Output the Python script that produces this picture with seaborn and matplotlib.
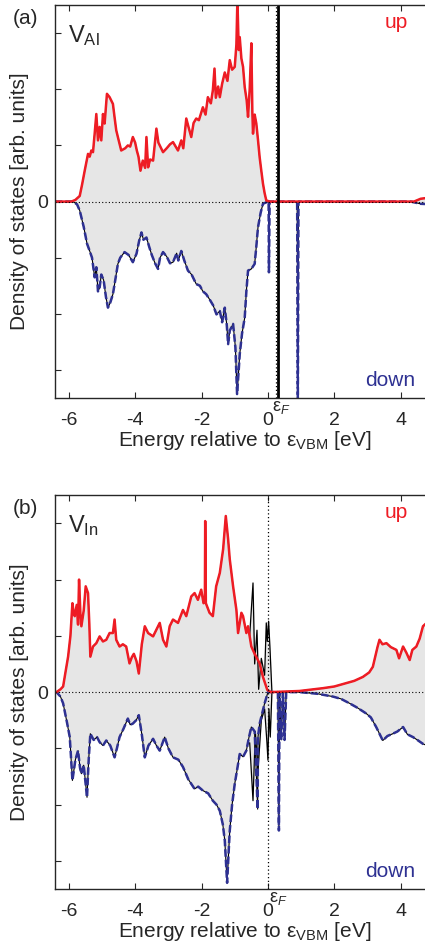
import numpy as np
import pandas as pd
import seaborn as sns
import matplotlib.pyplot as plt

# ---- data: (energy in eV, DOS in tick units) ----
# panel (a): V_Al, spin up (red) / spin down (blue)
a_up = [(-6.42, 0), (-5.92, 0), (-5.80, 0.03), (-5.67, 0.10), (-5.60, 0.30), (-5.52, 0.55), (-5.42, 0.85),
        (-5.37, 0.80), (-5.32, 0.91), (-5.27, 0.88), (-5.22, 1.21), (-5.17, 1.56), (-5.12, 1.09), (-5.07, 1.33),
        (-5.02, 1.09), (-4.97, 1.56), (-4.92, 1.39), (-4.85, 1.92), (-4.77, 1.86), (-4.67, 1.74), (-4.62, 1.50),
        (-4.57, 1.27), (-4.50, 1.10), (-4.42, 0.91), (-4.30, 0.95), (-4.22, 1.00), (-4.15, 0.98), (-4.07, 1.15),
        (-4.00, 1.05), (-3.95, 0.91), (-3.90, 0.80), (-3.84, 0.55), (-3.77, 0.73), (-3.70, 0.60), (-3.66, 1.15),
        (-3.61, 0.61), (-3.55, 0.75), (-3.46, 0.73), (-3.36, 1.30), (-3.30, 1.05), (-3.16, 0.88), (-3.05, 0.95),
        (-2.95, 1.02), (-2.86, 1.06), (-2.78, 0.98), (-2.71, 0.91), (-2.61, 1.09), (-2.55, 0.95), (-2.46, 1.48),
        (-2.38, 1.30), (-2.31, 1.15), (-2.24, 1.40), (-2.16, 1.48), (-2.08, 1.45), (-1.96, 1.68), (-1.88, 1.55),
        (-1.81, 1.86), (-1.72, 1.75), (-1.66, 1.98), (-1.61, 2.37), (-1.57, 1.85), (-1.50, 2.05), (-1.45, 1.86),
        (-1.38, 2.10), (-1.30, 2.30), (-1.22, 2.15), (-1.15, 2.52), (-1.08, 2.35), (-1.00, 2.40), (-0.95, 2.80),
        (-0.92, 3.60), (-0.88, 2.70), (-0.85, 2.93), (-0.80, 2.55), (-0.75, 2.40), (-0.70, 2.04), (-0.64, 1.80),
        (-0.60, 1.51), (-0.55, 2.00), (-0.50, 2.82), (-0.47, 1.60), (-0.45, 1.21), (-0.40, 1.55), (-0.35, 1.39),
        (-0.30, 1.10), (-0.25, 0.79), (-0.20, 0.55), (-0.15, 0.32), (-0.10, 0.15), (-0.05, 0.02), (0.05, 0),
        (4.40, 0), (4.60, 0.05), (5.0, 0.08)]

a_dn = [(-6.42, 0), (-5.87, 0), (-5.75, -0.05), (-5.67, -0.16), (-5.55, -0.45), (-5.45, -0.75), (-5.37, -0.88),
        (-5.30, -1.00), (-5.22, -1.35), (-5.17, -1.17), (-5.12, -1.60), (-5.07, -1.53), (-5.02, -1.30),
        (-4.95, -1.40), (-4.88, -1.70), (-4.82, -1.89), (-4.75, -1.80), (-4.67, -1.65), (-4.60, -1.40),
        (-4.52, -1.11), (-4.45, -1.00), (-4.32, -0.90), (-4.20, -0.95), (-4.07, -1.08), (-3.96, -0.93),
        (-3.88, -0.70), (-3.81, -0.55), (-3.75, -0.68), (-3.66, -0.64), (-3.58, -0.80), (-3.50, -0.95),
        (-3.40, -1.10), (-3.31, -1.20), (-3.25, -1.00), (-3.16, -0.90), (-3.05, -0.98), (-2.95, -1.10),
        (-2.86, -1.08), (-2.75, -0.92), (-2.70, -1.05), (-2.61, -0.88), (-2.52, -1.05), (-2.41, -1.23),
        (-2.30, -1.30), (-2.16, -1.47), (-2.05, -1.50), (-1.96, -1.60), (-1.86, -1.65), (-1.75, -1.75),
        (-1.65, -1.85), (-1.55, -2.01), (-1.45, -1.95), (-1.38, -2.15), (-1.30, -1.89), (-1.24, -2.20),
        (-1.20, -2.54), (-1.15, -2.30), (-1.05, -2.18), (-0.98, -2.60), (-0.93, -3.43), (-0.88, -3.00),
        (-0.85, -2.72), (-0.78, -2.35), (-0.70, -2.07), (-0.65, -1.60), (-0.60, -1.23), (-0.50, -1.20),
        (-0.40, -1.11), (-0.35, -0.80), (-0.30, -0.46), (-0.22, -0.20), (-0.15, -0.04), (0.00, 0), (0.02, 0),
        (0.03, -1.26), (0.05, 0), (0.88, 0), (0.90, -3.60), (0.92, 0), (4.30, 0), (4.60, -0.04), (5.0, -0.05)]

fermi_a = 0.23
defect_a = 0.30

# panel (b): V_In
b_up = [(-6.42, 0), (-6.37, 0), (-6.25, 0.05), (-6.17, 0.10), (-6.10, 0.35), (-6.02, 0.63), (-5.95, 1.00),
        (-5.89, 1.58), (-5.85, 1.40), (-5.82, 1.35), (-5.76, 1.55), (-5.72, 1.20), (-5.69, 2.00), (-5.65, 1.40),
        (-5.62, 1.17), (-5.55, 1.45), (-5.49, 1.88), (-5.42, 1.76), (-5.38, 1.20), (-5.35, 0.63), (-5.27, 0.81),
        (-5.17, 0.87), (-5.07, 0.99), (-4.97, 0.90), (-4.87, 0.93), (-4.77, 1.05), (-4.67, 1.05), (-4.62, 1.29),
        (-4.57, 0.93), (-4.47, 0.81), (-4.37, 0.85), (-4.27, 0.81), (-4.17, 0.51), (-4.10, 0.62), (-4.04, 0.68),
        (-3.96, 0.55), (-3.89, 0.33), (-3.80, 0.85), (-3.71, 1.17), (-3.61, 1.05), (-3.46, 0.99), (-3.36, 1.11),
        (-3.26, 1.23), (-3.16, 0.93), (-3.06, 0.81), (-2.96, 1.17), (-2.86, 1.29), (-2.71, 1.23), (-2.56, 1.46),
        (-2.46, 1.35), (-2.31, 1.70), (-2.21, 1.76), (-2.11, 1.64), (-2.01, 1.82), (-1.94, 1.58), (-1.90, 1.60),
        (-1.89, 3.04), (-1.87, 1.58), (-1.76, 1.41), (-1.66, 1.35), (-1.56, 1.88), (-1.45, 2.12), (-1.35, 2.54),
        (-1.27, 3.13), (-1.20, 2.72), (-1.15, 2.36), (-1.05, 1.88), (-0.95, 1.46), (-0.90, 1.05), (-0.80, 1.41),
        (-0.75, 1.35), (-0.65, 1.05), (-0.60, 1.17), (-0.50, 0.81), (-0.40, 0.68), (-0.25, 0.51), (-0.15, 0.27),
        (-0.02, 0.04), (0.09, 0), (0.95, 0.02), (1.66, 0.07), (2.00, 0.10), (2.36, 0.16), (2.60, 0.20),
        (2.86, 0.27), (3.05, 0.35), (3.16, 0.45), (3.30, 0.80), (3.36, 0.93), (3.45, 0.85), (3.57, 0.87),
        (3.70, 0.80), (3.87, 0.75), (3.95, 0.60), (4.07, 0.81), (4.17, 0.70), (4.27, 0.57), (4.35, 0.75),
        (4.47, 0.81), (4.57, 0.95), (4.67, 1.17), (5.0, 1.35)]

b_dn = [(-6.42, 0), (-6.37, 0), (-6.25, -0.08), (-6.17, -0.20), (-6.05, -0.55), (-5.97, -0.80), (-5.89, -1.57),
        (-5.80, -1.20), (-5.72, -1.04), (-5.66, -1.35), (-5.62, -1.45), (-5.55, -1.30), (-5.45, -1.87),
        (-5.40, -1.20), (-5.35, -0.74), (-5.25, -0.85), (-5.15, -0.80), (-5.07, -0.89), (-4.97, -0.95),
        (-4.87, -0.86), (-4.75, -0.95), (-4.62, -1.16), (-4.55, -1.00), (-4.47, -0.80), (-4.35, -0.65),
        (-4.22, -0.47), (-4.15, -0.58), (-4.07, -0.56), (-3.97, -0.50), (-3.89, -0.41), (-3.80, -0.75),
        (-3.71, -1.16), (-3.60, -0.95), (-3.46, -0.83), (-3.36, -0.95), (-3.26, -1.04), (-3.11, -0.80),
        (-3.00, -1.00), (-2.86, -1.16), (-2.70, -1.20), (-2.56, -1.33), (-2.40, -1.55), (-2.21, -1.72),
        (-2.10, -1.68), (-1.96, -1.75), (-1.80, -1.80), (-1.66, -1.93), (-1.55, -2.00), (-1.45, -2.11),
        (-1.36, -2.35), (-1.30, -2.64), (-1.23, -3.39), (-1.18, -2.80), (-1.15, -2.46), (-1.08, -2.00),
        (-1.00, -1.63), (-0.92, -1.35), (-0.85, -1.10), (-0.75, -1.15), (-0.65, -1.04), (-0.57, -0.80),
        (-0.50, -0.62), (-0.40, -0.70), (-0.31, -2.08), (-0.30, -0.80), (-0.25, -0.56), (-0.10, -0.20),
        (0.00, 0), (0.30, 0), (0.33, -2.46), (0.35, 0), (0.40, -0.85), (0.45, 0), (0.50, -0.85), (0.55, 0),
        (0.95, 0), (1.50, -0.03), (1.96, -0.08), (2.20, -0.12), (2.46, -0.20), (2.70, -0.28), (2.96, -0.38),
        (3.10, -0.45), (3.26, -0.62), (3.46, -0.86), (3.60, -0.78), (3.76, -0.74), (3.90, -0.70), (4.07, -0.62),
        (4.20, -0.75), (4.37, -0.80), (4.50, -0.85), (4.67, -0.92), (5.0, -1.0)]

# total DOS (black) where it departs from the spin curves near the gap
b_tot_up = [(-0.55, 1.0), (-0.45, 1.94), (-0.40, 0.5), (-0.33, 1.1), (-0.28, 0.05), (-0.20, 0.6), (-0.10, 0.3),
            (-0.05, 1.23), (-0.02, 0.9), (0.02, 1.26), (0.06, 0.8), (0.12, 0)]
b_tot_dn = [(-0.55, -0.9), (-0.45, -1.93), (-0.38, -0.7), (-0.30, -1.4), (-0.20, -0.5), (-0.10, -0.3),
            (-0.03, -0.9), (0.00, -1.21), (0.03, -0.3), (0.07, -0.8), (0.12, 0)]

fermi_b = 0.0

xticks = [-6, -4, -2, 0, 2, 4]
yticks = [-3, -2, -1, 0, 1, 2, 3]
ytick_labels = ["", "", "", "0", "", "", ""]

red = "#ee1c24"
blue = "#2e3192"
fill = "#e6e6e6"

sns.set_style("ticks")
plt.rcParams['font.family'] = ['Liberation Sans', 'DejaVu Sans']
plt.rcParams['mathtext.fontset'] = 'custom'
plt.rcParams['mathtext.rm'] = 'Liberation Sans'
plt.rcParams['mathtext.it'] = 'Liberation Sans:italic'
plt.rcParams['mathtext.default'] = 'rm'


def frame(pairs):
    return pd.DataFrame(pairs, columns=["energy", "dos"])


def panel(ax, up, dn, fermi, name, eps_x, extra=()):
    up, dn = frame(up), frame(dn)
    for d in [up, dn] + [frame(p) for p in extra]:
        ax.fill_between(d["energy"], 0, d["dos"], color=fill, lw=0)
    for p in extra:
        sns.lineplot(data=frame(p), x="energy", y="dos", ax=ax, color="k", lw=0.9,
                     sort=False, estimator=None)
    sns.lineplot(data=up, x="energy", y="dos", ax=ax, color="k", lw=0.8, sort=False, estimator=None)
    sns.lineplot(data=dn, x="energy", y="dos", ax=ax, color="k", lw=0.8, sort=False, estimator=None)
    sns.lineplot(data=dn, x="energy", y="dos", ax=ax, color=blue, lw=1.8, sort=False, estimator=None,
                 linestyle=(0, (3, 1.2)))
    sns.lineplot(data=up, x="energy", y="dos", ax=ax, color=red, lw=1.8, sort=False, estimator=None)
    ax.axhline(0, color="k", ls=(0, (1, 2)), lw=0.8)
    ax.axvline(fermi, color="k", ls=(0, (1, 2)), lw=0.9)

    ax.set_xlim(-6.42, 5.0)
    ax.set_ylim(-3.5, 3.5)
    ax.set_xticks(xticks)
    ax.set_xticklabels([str(t) for t in xticks])
    ax.set_yticks(yticks)
    ax.set_yticklabels(ytick_labels)
    ax.tick_params(direction="in", top=True, right=True, length=4, width=0.8, labelsize=14)
    ax.tick_params(axis="x", pad=10)
    ax.tick_params(axis="y", pad=5)
    for s in ax.spines.values():
        s.set_linewidth(1.0)
    ax.set_xlabel(r"Energy relative to ε$_{\rm VBM}$ [eV]", fontsize=15, labelpad=0)
    ax.set_ylabel("Density of states [arb. units]", fontsize=15, labelpad=6)
    ax.text(0.035, 0.955, name, transform=ax.transAxes, fontsize=17, va="top", ha="left")
    ax.text(0.90, 0.955, "up", transform=ax.transAxes, fontsize=15, color=red, va="center", ha="center")
    ax.text(0.885, 0.045, "down", transform=ax.transAxes, fontsize=15, color=blue, va="center", ha="center")
    ax.text(eps_x, -0.002, r"ε$_{\it F}$", transform=ax.get_xaxis_transform(),
            fontsize=13, ha="left", va="top")


fig = plt.figure(figsize=(4.25, 9.49), dpi=100)
ax_a = fig.add_axes([0.129, 0.5806, 0.892, 0.414])
ax_b = fig.add_axes([0.129, 0.0632, 0.892, 0.415])

panel(ax_a, a_up, a_dn, fermi_a, r"V$_{\rm Al}$", eps_x=fermi_a - 0.12)
ax_a.axvline(defect_a, color="k", lw=2.0)
panel(ax_b, b_up, b_dn, fermi_b, r"V$_{\rm In}$", eps_x=fermi_b + 0.04, extra=[b_tot_up, b_tot_dn])

fig.text(25 / 425, 1 - 18 / 949, "(a)", fontsize=15, ha="center", va="center")
fig.text(25 / 425, 1 - 508 / 949, "(b)", fontsize=15, ha="center", va="center")

fig.savefig("out.png", dpi=100)
